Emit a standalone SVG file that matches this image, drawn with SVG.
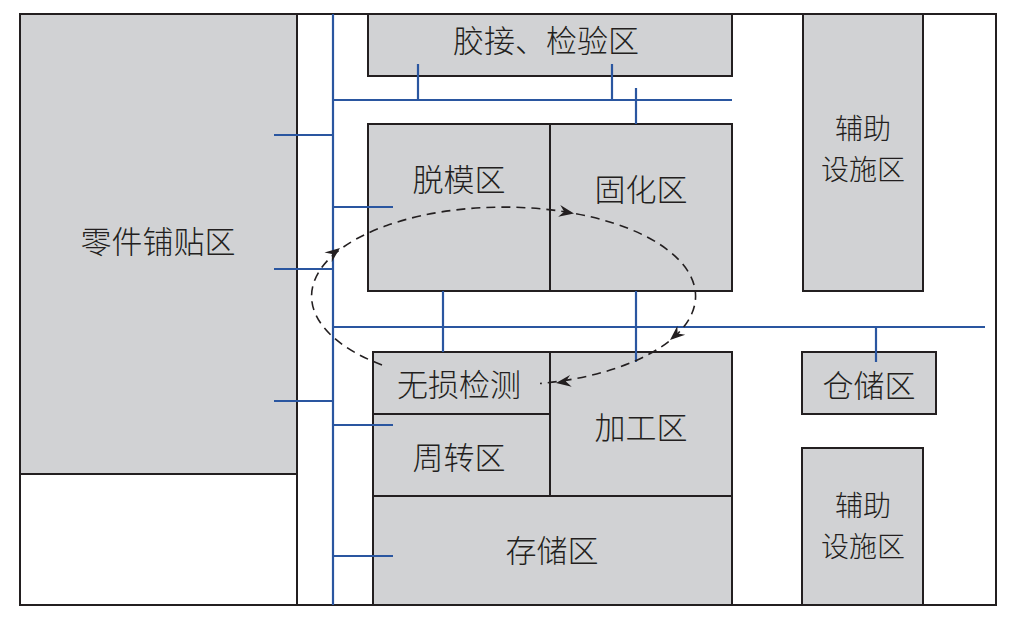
<svg xmlns="http://www.w3.org/2000/svg" width="1012" height="621" viewBox="0 0 1012 621">
<style>
.z{fill:#d1d2d4;stroke:#231f20;stroke-width:2}
.t{font-family:"Noto Sans CJK SC","Noto Sans",sans-serif;font-size:31px;fill:#231f20;text-anchor:middle;font-weight:300}
.s{font-size:28px}
.b{stroke:#2a56a0;stroke-width:2.2;fill:none}
.d{stroke:#231f20;stroke-width:1.6;fill:none;stroke-dasharray:9 6}
.ah{fill:#231f20}
</style>
<defs>
<path id="arr" d="M0,0 L-15,-6 L-10,0 L-15,6 Z"/>
</defs>
<rect x="0" y="0" width="1012" height="621" fill="#fff"/>
<rect x="20" y="14" width="976" height="591" fill="#fff" stroke="#231f20" stroke-width="2"/>
<line x1="297" y1="14" x2="297" y2="605" stroke="#231f20" stroke-width="2"/>
<g id="lingjian"><rect class="z" x="20" y="14" width="277" height="460"/><text class="t" x="158" y="253">零件铺贴区</text></g>
<g id="jiaojie"><rect class="z" x="368" y="14" width="364" height="62"/><text class="t" x="546" y="52">胶接、检验区</text></g>
<g id="tuomo"><rect class="z" x="368" y="124" width="182" height="167"/><text class="t" x="459" y="191">脱模区</text></g>
<g id="guhua"><rect class="z" x="550" y="124" width="182" height="167"/><text class="t" x="641" y="201">固化区</text></g>
<g id="fuzhu1"><rect class="z" x="803" y="14" width="120" height="277"/><text class="t s" x="863" y="139">辅助</text><text class="t s" x="863" y="180">设施区</text></g>
<g id="wusun"><rect class="z" x="373" y="352" width="177" height="62"/><text class="t" x="459" y="396">无损检测</text></g>
<g id="zhouzhuan"><rect class="z" x="373" y="414" width="177" height="82"/><text class="t" x="459" y="469">周转区</text></g>
<g id="jiagong"><rect class="z" x="550" y="352" width="182" height="144"/><text class="t" x="641" y="439">加工区</text></g>
<g id="cunchu"><rect class="z" x="373" y="496" width="359" height="109"/><text class="t" x="552" y="562">存储区</text></g>
<g id="cangchu"><rect class="z" x="802" y="352" width="134" height="62"/><text class="t" x="869" y="397">仓储区</text></g>
<g id="fuzhu2"><rect class="z" x="802" y="448" width="121" height="157"/><text class="t s" x="863" y="516">辅助</text><text class="t s" x="863" y="557">设施区</text></g>
<g id="connectors">
<path class="b" d="M333,14 V605 M333,100 H732 M418,64 V100 M612,64 V100 M636,88 V124 M274,135 H333 M333,207 H393 M274,269 H333 M274,401 H333 M333,425 H393 M333,556 H393 M333,327 H985 M443,291 V352 M636,291 V362 M876,327 V362"/>
<path class="d" d="M382,365 A192,89 0 1 1 540,383.5"/>
<use href="#arr" class="ah" transform="translate(340,248) rotate(-37.6)"/>
<use href="#arr" class="ah" transform="translate(574,213.5) rotate(10.3)"/>
<use href="#arr" class="ah" transform="translate(670,340) rotate(139)"/>
<use href="#arr" class="ah" transform="translate(556,383) rotate(172)"/>
</g>
</svg>
